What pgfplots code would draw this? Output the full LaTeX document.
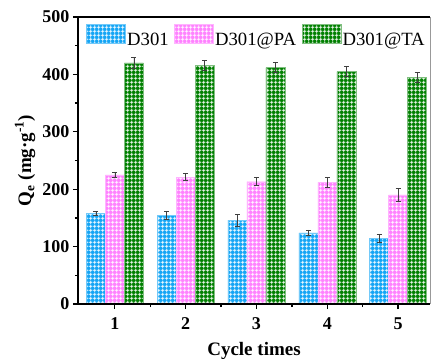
\documentclass[border=0pt]{standalone}
\usepackage{pgfplots}
\pgfplotsset{compat=1.18}
\usepackage{pgfplotstable}
\usepackage{fontspec}
\setmainfont{Liberation Serif}
\usetikzlibrary{patterns}
\definecolor{cblue}{RGB}{20,165,245}
\definecolor{cpink}{RGB}{255,130,255}
\definecolor{cgreen}{RGB}{0,128,0}
\pgfdeclarepatternformonly{wgrid}{\pgfpointorigin}{\pgfqpoint{3.7bp}{3.7bp}}{\pgfqpoint{3.7bp}{3.7bp}}{%
  \pgfsetlinewidth{0.7bp}%
  \pgfpathmoveto{\pgfqpoint{0bp}{1.85bp}}\pgfpathlineto{\pgfqpoint{3.7bp}{1.85bp}}%
  \pgfpathmoveto{\pgfqpoint{1.85bp}{0bp}}\pgfpathlineto{\pgfqpoint{1.85bp}{3.7bp}}%
  \pgfusepath{stroke}}

\pgfplotstableread{
x y e
1 158 3.5
2 154 7
3 146 10
4 124 5
5 114 7
}\tblue
\pgfplotstableread{
x y e
1 225 5
2 221 6
3 213 7
4 212 8
5 190 11
}\tpink
\pgfplotstableread{
x y e
1 420 10
2 416 9
3 412 9
4 405 9
5 395 9
}\tgreen

\begin{document}
\begin{tikzpicture}
\begin{axis}[
  scale only axis,
  width=352bp, height=287bp,
  xmin=0.48, xmax=5.45,
  ymin=0, ymax=500,
  ybar=0pt, bar width=19bp,
  axis on top,
  axis lines=left,
  axis line style={line width=1.5bp, -},
  xtick={1,2,3,4,5},
  minor xtick={1.5,2.5,3.5,4.5},
  ytick={0,100,200,300,400,500},
  minor ytick={50,150,250,350,450},
  tick align=outside,
  major tick length=5bp,
  minor tick length=3bp,
  tick style={line width=1.3bp, black},
  /pgf/number format/assume math mode=true,
  ticklabel style={font=\fontsize{18bp}{19bp}\selectfont\bfseries},
  xticklabel style={yshift=-5bp},
  xlabel={Cycle times},
  ylabel={Q\textsubscript{e} (mg·g\textsuperscript{-1})},
  label style={font=\fontsize{19bp}{20bp}\selectfont\bfseries},
  xlabel style={at={(axis description cs:0.5,-0.178)}, anchor=base},
  ylabel style={at={(axis description cs:-0.150,0.5)}, anchor=center},
  legend columns=3,
  legend style={at={(axis description cs:0.023,0.933)}, anchor=west,
    draw=none, fill=none, inner sep=0pt,
    font=\fontsize{18.7bp}{19bp}\selectfont,
    nodes={inner sep=1.5bp},
    /tikz/every even column/.append style={column sep=4bp}},
  legend image code/.code={\draw[#1] (0bp,-3.7bp) rectangle (39bp,15.3bp);},
  error bars/y dir=both,
  error bars/y explicit,
  error bars/error bar style={line width=0.6bp, black!75},
  error bars/error mark options={rotate=90, mark size=2.5bp, line width=0.6bp, black!75},
  after end axis/.code={
    \draw[line width=1.5bp] (rel axis cs:0,1) -- (rel axis cs:1,1);
    \draw[line width=0.5bp, black!40] (rel axis cs:1,0) -- (rel axis cs:1,1);
  },
]
\addplot[fill=cblue, draw=cblue!60!white, line width=0.4bp, postaction={pattern=wgrid, pattern color=white}]
  table[x=x, y=y, y error=e] {\tblue};
\addplot[fill=cpink, draw=cpink!60!white, line width=0.4bp, postaction={pattern=wgrid, pattern color=white}]
  table[x=x, y=y, y error=e] {\tpink};
\addplot[fill=cgreen, draw=cgreen!50!white, line width=0.4bp, postaction={pattern=wgrid, pattern color=white}]
  table[x=x, y=y, y error=e] {\tgreen};
\legend{D301, D301@PA, D301@TA}
\end{axis}
\pgfresetboundingbox
\path (-78bp,-55bp) rectangle (356bp,304bp);
\end{tikzpicture}
\end{document}
